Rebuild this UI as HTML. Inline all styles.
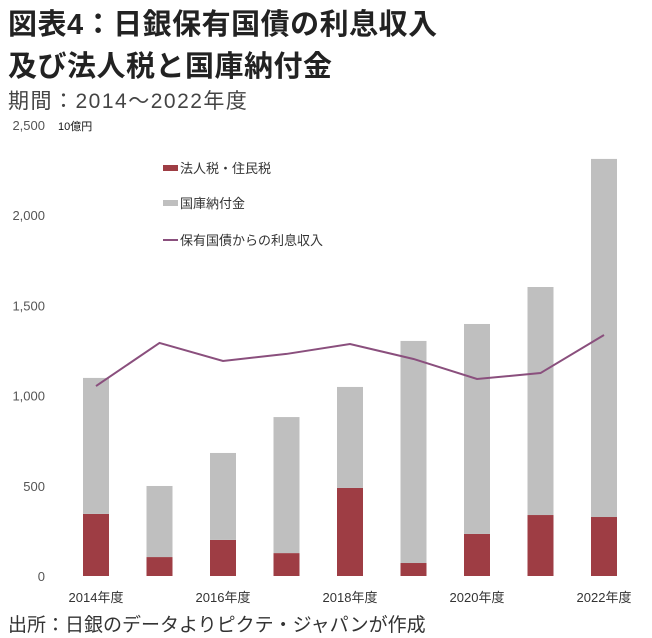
<!DOCTYPE html>
<html><head><meta charset="utf-8"><style>
body{margin:0;width:652px;height:638px;background:#fff;overflow:hidden;font-family:"Liberation Sans","Noto Sans CJK JP",sans-serif;}
.t{position:absolute;left:8px;color:#222;white-space:nowrap}
</style></head><body>
<div class="t" style="top:1px;font-size:29px;font-weight:bold;letter-spacing:0.5px;">図表4：日銀保有国債の利息収入</div>
<div class="t" style="top:43px;font-size:29px;font-weight:bold;letter-spacing:0.5px;">及び法人税と国庫納付金</div>
<div class="t" style="top:85px;font-size:21px;color:#444;letter-spacing:1.5px;">期間：2014～2022年度</div>
<div class="t" style="top:610px;font-size:19px;color:#333;">出所：日銀のデータよりピクテ・ジャパンが作成</div>
<svg id="c" width="652" height="638" style="position:absolute;left:0;top:0"></svg>
<script>
const years=["2014年度","2015年度","2016年度","2017年度","2018年度","2019年度","2020年度","2021年度","2022年度"];
const tax=[344,105,200,127,488,72,233,338,327];
const nofu=[754,394,482,754,560,1231,1164,1264,1985];
const interest=[1053,1292,1192,1231,1286,1203,1092,1125,1336];
const yTicks=[0,500,1000,1500,2000,2500];
const yTickLabels=["0","500","1,000","1,500","2,000","2,500"];
const NS="http://www.w3.org/2000/svg";
const svg=document.getElementById('c');
const y=v=>576-v*0.1804;
const x=i=>96+i*63.5;
const bw=26;
function mk(t,a){const e=document.createElementNS(NS,t);for(const k in a)e.setAttribute(k,a[k]);svg.appendChild(e);return e;}
yTicks.forEach((v,i)=>{const e=mk('text',{x:45,y:y(v)+5,'text-anchor':'end','font-size':13,fill:'#555','font-family':'Liberation Sans Narrow, Liberation Sans, sans-serif'});e.textContent=yTickLabels[i];

});
const u=mk('text',{x:58,y:130,'font-size':11,fill:'#111','font-family':'Liberation Sans, Noto Sans CJK JP, sans-serif'});u.textContent='10億円';


years.forEach((yr,i)=>{
 const r=mk('rect',{x:x(i)-bw/2,y:y(tax[i]),width:bw,height:576-y(tax[i]),fill:'#9e3d44'});
 
 
 const g=mk('rect',{x:x(i)-bw/2,y:y(tax[i]+nofu[i]),width:bw,height:y(tax[i])-y(tax[i]+nofu[i]),fill:'#bfbfbf'});
 
 
 if(i%2==0){const t=mk('text',{x:x(i),y:602,'text-anchor':'middle','font-size':13,fill:'#333','font-family':'Liberation Sans, Noto Sans CJK JP, sans-serif'});t.textContent=yr;
 
 }
});
const p=mk('polyline',{points:interest.map((v,i)=>x(i)+','+y(v)).join(' '),fill:'none',stroke:'#8a4f7d','stroke-width':2});


const leg=[['法人税・住民税','#9e3d44','rect',168],['国庫納付金','#bfbfbf','rect',203],['保有国債からの利息収入','#8a4f7d','line',240]];
leg.forEach(l=>{
 const s=l[2]=='rect'?mk('rect',{x:163,y:l[3]-3,width:15,height:6,fill:l[1]}):mk('line',{x1:163,x2:178,y1:l[3],y2:l[3],stroke:l[1],'stroke-width':2});
 
 
 const t=mk('text',{x:180,y:l[3]+5,'font-size':13,fill:'#333','font-family':'Liberation Sans, Noto Sans CJK JP, sans-serif'});t.textContent=l[0];
 
 
});
</script>
</body></html>
